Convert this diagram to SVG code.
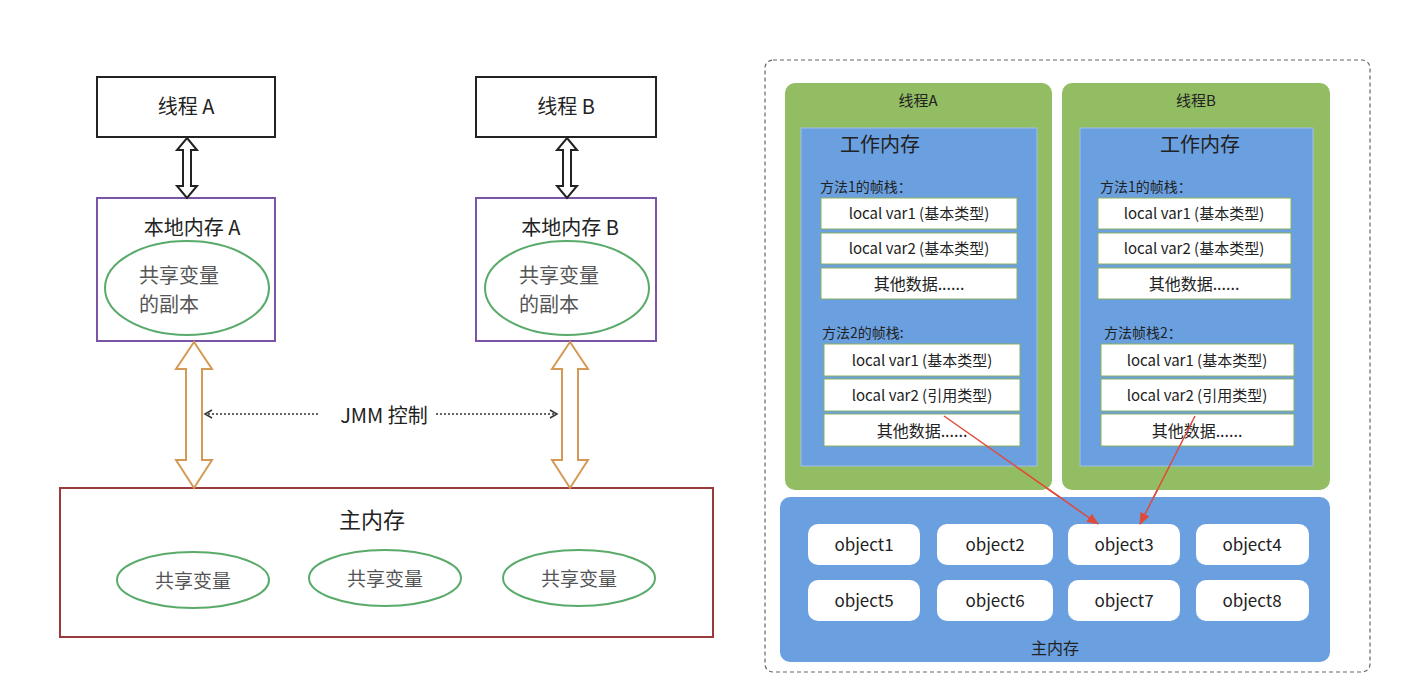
<svg xmlns="http://www.w3.org/2000/svg" width="1406" height="692" viewBox="0 0 1406 692">
<style>
text{font-family:"Noto Sans CJK SC","Liberation Sans",sans-serif;text-anchor:middle;fill:#222}
.box{fill:#fff;stroke:#222;stroke-width:2}
.loc{fill:#fff;stroke:#7a55a6;stroke-width:2}
.ell{fill:#fff;stroke:#5aaa6a;stroke-width:2}
.g{fill:#93bd62}
.b{fill:#6aa0e0}
.w{fill:#fff;stroke:#8ab060;stroke-width:1}
.o{fill:#fff}
.t{font-size:15px}
.ot{font-size:17px}
</style>
<defs>
<marker id="op" markerWidth="10" markerHeight="10" refX="8" refY="5" orient="auto" markerUnits="userSpaceOnUse"><path d="M1,1 L8,5 L1,9" fill="none" stroke="#333" stroke-width="1.5"/></marker>
<marker id="rd" markerWidth="12" markerHeight="10" refX="11" refY="5" orient="auto" markerUnits="userSpaceOnUse"><path d="M0,0 L12,5 L0,10 Z" fill="#e04a3a"/></marker>
</defs>
<rect width="1406" height="692" fill="#fff"/>
<g id="threadA"><rect class="box" x="97" y="77" width="178" height="60"/><text x="186" y="114" font-size="20">线程 A</text></g>
<g id="threadB"><rect class="box" x="476" y="77" width="180" height="60"/><text x="566" y="114" font-size="20">线程 B</text></g>
<g id="localA"><rect class="loc" x="97" y="198" width="178" height="143"/><text x="192" y="235" font-size="20">本地内存 A</text><ellipse class="ell" cx="187" cy="288" rx="82" ry="47"/><text x="139" y="283" font-size="20" fill="#666" style="text-anchor:start;fill:#555">共享变量</text><text x="139" y="312" font-size="20" style="text-anchor:start;fill:#555">的副本</text></g>
<g id="localB"><rect class="loc" x="476" y="198" width="180" height="143"/><text x="570" y="235" font-size="20">本地内存 B</text><ellipse class="ell" cx="567" cy="288" rx="82" ry="47"/><text x="519" y="283" font-size="20" style="text-anchor:start;fill:#555">共享变量</text><text x="519" y="312" font-size="20" style="text-anchor:start;fill:#555">的副本</text></g>
<g id="mainL"><rect x="60" y="488" width="653" height="149" fill="#fff" stroke="#9a3a3a" stroke-width="2"/><text x="372" y="528" font-size="22">主内存</text>
<ellipse class="ell" cx="193" cy="580" rx="76" ry="28"/><text x="193" y="588" font-size="19" style="fill:#555">共享变量</text>
<ellipse class="ell" cx="385" cy="578" rx="76" ry="28"/><text x="385" y="586" font-size="19" style="fill:#555">共享变量</text>
<ellipse class="ell" cx="579" cy="578" rx="76" ry="28"/><text x="579" y="586" font-size="19" style="fill:#555">共享变量</text></g>
<g id="connectors">
<path d="M187,138 L197,150 L191,150 L191,186 L197,186 L187,198 L177,186 L183,186 L183,150 L177,150 Z" fill="#fff" stroke="#222" stroke-width="2"/>
<path d="M567,138 L577,150 L571,150 L571,186 L577,186 L567,198 L557,186 L563,186 L563,150 L557,150 Z" fill="#fff" stroke="#222" stroke-width="2"/>
<path d="M194,342 L212,369 L202,369 L202,460 L212,460 L194,488 L176,460 L186,460 L186,369 L176,369 Z" fill="#fff" stroke="#d49a55" stroke-width="2"/>
<path d="M570,342 L588,369 L578,369 L578,460 L588,460 L570,488 L552,460 L562,460 L562,369 L552,369 Z" fill="#fff" stroke="#d49a55" stroke-width="2"/>
<line x1="318" y1="414" x2="205" y2="414" stroke="#333" stroke-width="1.5" stroke-dasharray="2,2" marker-end="url(#op)"/>
<line x1="436" y1="414" x2="557" y2="414" stroke="#333" stroke-width="1.5" stroke-dasharray="2,2" marker-end="url(#op)"/>
<line x1="944" y1="416" x2="1098" y2="524" stroke="#e04a3a" stroke-width="1.5" marker-end="url(#rd)"/>
<line x1="1195" y1="416" x2="1140" y2="524" stroke="#e04a3a" stroke-width="1.5" marker-end="url(#rd)"/>
</g>
<text x="384" y="423" font-size="20">JMM 控制</text>
<rect x="765" y="60" width="605" height="612" rx="8" fill="none" stroke="#666" stroke-width="1.2" stroke-dasharray="4,3"/>
<g id="threadA2"><rect class="g" x="785" y="83" width="267" height="407" rx="10"/><text x="918" y="106" class="t" font-size="16">线程A</text>
<rect class="b" x="801" y="128" width="236" height="338" stroke="#9fc0ec"/><text x="880" y="152" font-size="20">工作内存</text>
<text x="820" y="192" font-size="14" style="text-anchor:start">方法1的帧栈：</text>
<rect class="w" x="821" y="198" width="196" height="31"/><text x="919" y="219" class="t">local var1 (基本类型)</text>
<rect class="w" x="821" y="233" width="196" height="31"/><text x="919" y="254" class="t">local var2 (基本类型)</text>
<rect class="w" x="821" y="268" width="196" height="31"/><text x="919" y="290" font-size="16">其他数据......</text>
<text x="822" y="338" font-size="14" style="text-anchor:start">方法2的帧栈:</text>
<rect class="w" x="824" y="344" width="196" height="32"/><text x="922" y="366" class="t">local var1 (基本类型)</text>
<rect class="w" x="824" y="379" width="196" height="32"/><text x="922" y="401" class="t">local var2 (引用类型)</text>
<rect class="w" x="824" y="414" width="196" height="32"/><text x="922" y="437" font-size="16">其他数据......</text></g>
<g id="threadB2"><rect class="g" x="1062" y="83" width="268" height="407" rx="10"/><text x="1196" y="106" class="t" font-size="16">线程B</text>
<rect class="b" x="1080" y="128" width="233" height="338" stroke="#9fc0ec"/><text x="1200" y="152" font-size="20">工作内存</text>
<text x="1100" y="192" font-size="14" style="text-anchor:start">方法1的帧栈：</text>
<rect class="w" x="1098" y="198" width="193" height="31"/><text x="1194" y="219" class="t">local var1 (基本类型)</text>
<rect class="w" x="1098" y="233" width="193" height="31"/><text x="1194" y="254" class="t">local var2 (基本类型)</text>
<rect class="w" x="1098" y="268" width="193" height="31"/><text x="1194" y="290" font-size="16">其他数据......</text>
<text x="1104" y="338" font-size="14" style="text-anchor:start">方法帧栈2：</text>
<rect class="w" x="1101" y="344" width="193" height="32"/><text x="1197" y="366" class="t">local var1 (基本类型)</text>
<rect class="w" x="1101" y="379" width="193" height="32"/><text x="1197" y="401" class="t">local var2 (引用类型)</text>
<rect class="w" x="1101" y="414" width="193" height="32"/><text x="1197" y="437" font-size="16">其他数据......</text></g>
<g id="mainR"><rect class="b" x="780" y="497" width="550" height="165" rx="10"/><text x="1055" y="654" font-size="16">主内存</text>
<rect class="o" x="808" y="524" width="112" height="41" rx="10"/><text x="864" y="551" class="ot">object1</text>
<rect class="o" x="937" y="524" width="116" height="41" rx="10"/><text x="995" y="551" class="ot">object2</text>
<rect class="o" x="1068" y="524" width="112" height="41" rx="10"/><text x="1124" y="551" class="ot">object3</text>
<rect class="o" x="1196" y="524" width="113" height="41" rx="10"/><text x="1252" y="551" class="ot">object4</text>
<rect class="o" x="808" y="580" width="112" height="41" rx="10"/><text x="864" y="607" class="ot">object5</text>
<rect class="o" x="937" y="580" width="116" height="41" rx="10"/><text x="995" y="607" class="ot">object6</text>
<rect class="o" x="1068" y="580" width="112" height="41" rx="10"/><text x="1124" y="607" class="ot">object7</text>
<rect class="o" x="1196" y="580" width="113" height="41" rx="10"/><text x="1252" y="607" class="ot">object8</text></g>
<line x1="944" y1="416" x2="1098" y2="524" stroke="#e04a3a" stroke-width="1.5" marker-end="url(#rd)"/>
<line x1="1195" y1="416" x2="1140" y2="524" stroke="#e04a3a" stroke-width="1.5" marker-end="url(#rd)"/>
</svg>
